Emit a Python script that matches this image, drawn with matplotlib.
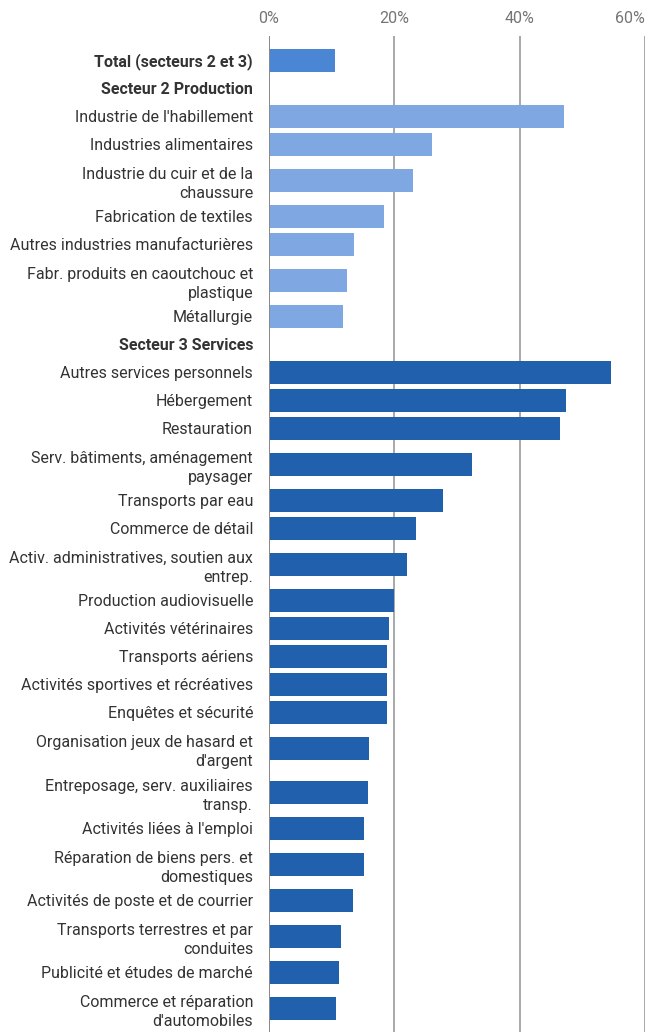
import matplotlib
matplotlib.use("Agg")
import matplotlib.pyplot as plt
import numpy as np

plt.rcParams['font.family'] = ['Roboto', 'DejaVu Sans']

labels = [
    "Total (secteurs 2 et 3)",
    "Secteur 2 Production",
    "Industrie de l'habillement",
    "Industries alimentaires",
    "Industrie du cuir et de la\nchaussure",
    "Fabrication de textiles",
    "Autres industries manufacturières",
    "Fabr. produits en caoutchouc et\nplastique",
    "Métallurgie",
    "Secteur 3 Services",
    "Autres services personnels",
    "Hébergement",
    "Restauration",
    "Serv. bâtiments, aménagement\npaysager",
    "Transports par eau",
    "Commerce de détail",
    "Activ. administratives, soutien aux\nentrep.",
    "Production audiovisuelle",
    "Activités vétérinaires",
    "Transports aériens",
    "Activités sportives et récréatives",
    "Enquêtes et sécurité",
    "Organisation jeux de hasard et\nd'argent",
    "Entreposage, serv. auxiliaires\ntransp.",
    "Activités liées à l'emploi",
    "Réparation de biens pers. et\ndomestiques",
    "Activités de poste et de courrier",
    "Transports terrestres et par\nconduites",
    "Publicité et études de marché",
    "Commerce et réparation\nd'automobiles",
]
values = [10.5, np.nan, 47.0, 26.0, 23.0, 18.3, 13.6, 12.4, 11.8,
          np.nan, 54.5, 47.4, 46.4, 32.4, 27.8, 23.4, 22.0, 19.9, 19.1,
          18.9, 18.8, 18.8, 15.9, 15.8, 15.1, 15.1, 13.4, 11.5, 11.2, 10.7]
groups = ["total", "header", "s2", "s2", "s2", "s2", "s2", "s2", "s2",
          "header"] + ["s3"] * 20
xticks = [0, 20, 40, 60]
xticklabels = ["0%", "20%", "40%", "60%"]

group_colors = {"total": "#4a86d4", "s2": "#7fa8e3", "s3": "#2160ad", "header": "#ffffff"}

W, H = 646, 1032
fig = plt.figure(figsize=(W / 100, H / 100), dpi=100)
ax_top = 36
ax_left, ax_right = 269, 645
ax = fig.add_axes([ax_left / W, 0, (ax_right - ax_left) / W, (H - ax_top) / H])

# row layout (pixels): single line rows 28 px, two-line rows 44 px
heights = [44 if "\n" in l else 28 for l in labels]
tops = np.concatenate([[0], np.cumsum(heights)[:-1]])
centers = tops + np.array(heights) / 2.0
offset = 10
ax.set_ylim(H - ax_top - offset, -offset)

colors = [group_colors[g] for g in groups]
ax.barh(centers, values, height=23, color=colors, zorder=3)

ax.set_xlim(0, 60)
ax.set_xticks(xticks)
ax.set_xticklabels(xticklabels)
ax.xaxis.tick_top()
ax.tick_params(axis='x', length=0, pad=7, labelsize=11.5, labelcolor="#757575")
ax.get_xticklabels()[-1].set_horizontalalignment('right')
ax.grid(axis='x', color="#9a9a9a", linewidth=1.2, zorder=1)
for s in ax.spines.values():
    s.set_visible(False)
ax.axvline(0, color="#8a8a8a", linewidth=1.4, zorder=4)

ax.set_yticks(centers)
ax.set_yticklabels(labels)
ax.tick_params(axis='y', length=0, pad=11.5, labelsize=11.5, labelcolor="#333333")
for t, g in zip(ax.get_yticklabels(), groups):
    t.set_linespacing(1.4)
    t.set_horizontalalignment('right')
    t.set_multialignment('right')
    if g in ("total", "header"):
        t.set_fontweight('bold')

fig.savefig("out.png", dpi=100)
